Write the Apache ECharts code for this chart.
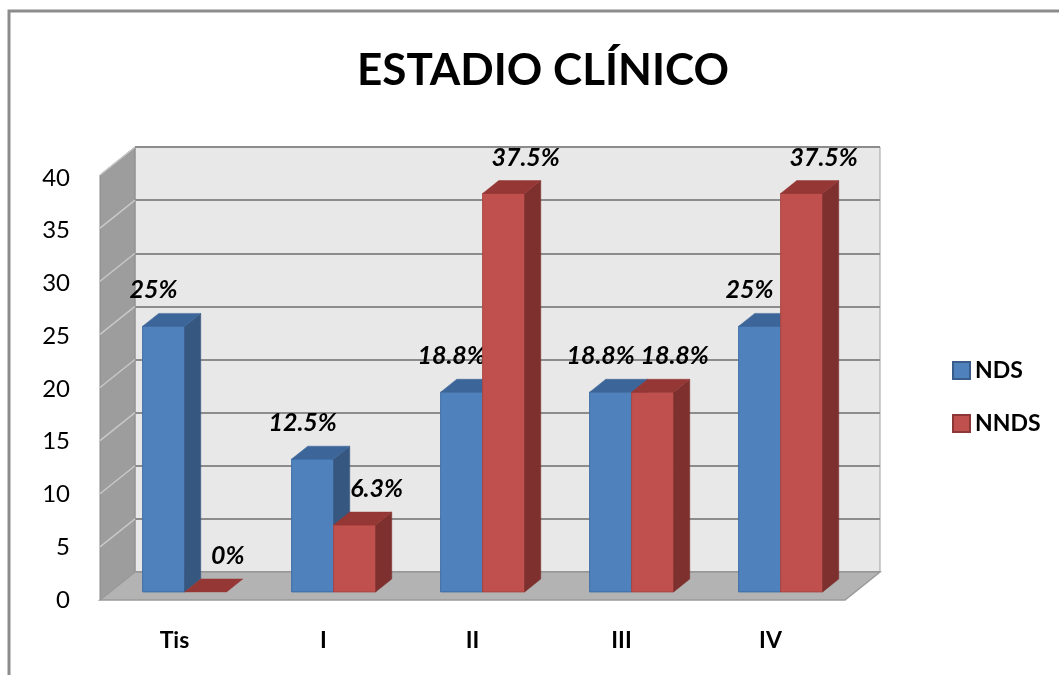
<!DOCTYPE html>
<html>
<head>
<meta charset="utf-8">
<script src="https://cdn.jsdelivr.net/npm/echarts@6/dist/echarts.min.js"></script>
<style>
html,body{margin:0;padding:0;background:#fff;}
#chart{width:1059px;height:675px;}
</style>
</head>
<body>
<div id="chart"></div>
<script>
// ---- data ----
const categories = ['Tis', 'I', 'II', 'III', 'IV'];
const seriesNames = ['NDS', 'NNDS'];
const ndsValues = [25, 12.5, 18.8, 18.8, 25];
const nndsValues = [0, 6.3, 37.5, 18.8, 37.5];
const yTickValues = [0, 5, 10, 15, 20, 25, 30, 35, 40];
const titleText = 'ESTADIO CLÍNICO';

// ---- layout (3D look) ----
const DX = 35, DY = 28;          // front plane offset from back wall
const FRONT = 0.71, BACK = 0.25; // bar depth fractions
const BAR_FRAC = 0.282;
const FONT = 'Lato, "Open Sans", sans-serif';

const colors = {
  NDS:  {front: '#4F81BD', side: '#36577f', top: '#3c6599', stroke: '#3e6ea6', legendBorder: '#385D8A'},
  NNDS: {front: '#C0504D', side: '#7d302e', top: '#953734', stroke: '#a84643', legendBorder: '#8C3836'}
};

function barRenderer(side, labelDx, c) {
  return function (params, api) {
    const cat = api.value(0), v = api.value(1);
    const base = api.coord([cat, 0]);
    const top = api.coord([cat, v]);
    const w = api.size([1, 0])[0] * BAR_FRAC;
    const fx = -DX * FRONT, fy = DY * FRONT;
    const bx = -DX * BACK, by = DY * BACK;
    const ddx = bx - fx, ddy = by - fy;
    const x0 = base[0] + (side === 0 ? -w : 0) + fx;
    const x1 = x0 + w;
    const yT = top[1] + fy, yB = base[1] + fy;
    const children = [];
    if (yB - yT > 0.1) {
      children.push({type: 'rect', shape: {x: x0, y: yT, width: w, height: yB - yT},
        style: {fill: c.front, stroke: c.stroke, lineWidth: 1}});
      children.push({type: 'polygon', shape: {points: [[x1, yB], [x1, yT], [x1 + ddx, yT + ddy], [x1 + ddx, yB + ddy]]},
        style: {fill: c.side, stroke: c.side, lineWidth: 0.5}});
    }
    children.push({type: 'polygon', shape: {points: [[x0, yT], [x1, yT], [x1 + ddx, yT + ddy], [x0 + ddx, yT + ddy]]},
      style: {fill: c.top, stroke: c.top, lineWidth: 0.5}});
    children.push({type: 'text', x: (x0 + x1) / 2 + labelDx, y: yT - 36,
      style: {text: v + '%', fill: '#000', font: 'italic bold 25px ' + FONT, align: 'center', verticalAlign: 'middle'}});
    return {type: 'group', children: children};
  };
}

function wallRenderer(params, api) {
  const cs = params.coordSys;
  const v = api.value(1);
  const y = api.coord([0, v])[1];
  const children = [];
  if (params.dataIndex === 0) {
    const L = cs.x, R = cs.x + cs.width, T = cs.y, B = cs.y + cs.height;
    children.push({type: 'polygon', shape: {points: [[L - DX, T + DY], [L, T], [L, B], [L - DX, B + DY]]},
      style: {fill: '#9d9d9d', stroke: '#8a8a8a', lineWidth: 1}});
    children.push({type: 'polygon', shape: {points: [[L - DX, B + DY], [R - DX, B + DY], [R, B], [L, B]]},
      style: {fill: '#b3b3b3', stroke: '#9a9a9a', lineWidth: 1.5}});
  }
  if (v > 0) {
    children.push({type: 'line', shape: {x1: cs.x, y1: y, x2: cs.x - DX, y2: y + DY},
      style: {stroke: '#c9c9c9', lineWidth: 1.5}});
  }
  return {type: 'group', children: children};
}

const chart = echarts.init(document.getElementById('chart'), null, {renderer: 'canvas'});
chart.setOption({
  animation: false,
  backgroundColor: '#fff',
  title: {
    text: titleText, left: 538, top: 44, textAlign: 'center',
    textStyle: {fontFamily: FONT, fontWeight: 'bold', fontSize: 44, color: '#000'}
  },
  legend: {
    data: seriesNames, orient: 'vertical', left: 947, top: 354,
    itemWidth: 17, itemHeight: 17, itemGap: 30, icon: 'rect',
    textStyle: {fontFamily: FONT, fontWeight: 'bold', fontSize: 23, color: '#000'}
  },
  graphic: [
    {type: 'polyline', shape: {points: [[9, 675], [9, 11], [1059, 11]]},
      style: {stroke: '#8c8c8c', lineWidth: 3, fill: null}, z: 0}
  ],
  grid: [
    {left: 135, top: 147, width: 745, height: 425, show: true, backgroundColor: '#e8e8e8',
      borderColor: '#a0a0a0', borderWidth: 1, containLabel: false},
    {left: 100, top: 178, width: 745, height: 422, show: false, containLabel: false}
  ],
  xAxis: [
    {type: 'category', gridIndex: 0, data: categories, axisLine: {show: false}, axisTick: {show: false},
      axisLabel: {show: false}, splitLine: {show: false}},
    {type: 'category', gridIndex: 1, data: categories, axisLine: {show: false}, axisTick: {show: false},
      axisLabel: {margin: 29, fontFamily: FONT, fontWeight: 'bold', fontSize: 23, color: '#000'}}
  ],
  yAxis: [
    {type: 'value', gridIndex: 0, min: 0, max: 40, interval: 5, axisLine: {show: false}, axisTick: {show: false},
      axisLabel: {show: false}, splitLine: {show: true, lineStyle: {color: '#8c8c8c', width: 2}}},
    {type: 'value', gridIndex: 1, min: 0, max: 40, interval: 5, axisLine: {show: false}, axisTick: {show: false},
      splitLine: {show: false},
      axisLabel: {margin: 30, fontFamily: FONT, fontSize: 24, color: '#000'}}
  ],
  series: [
    {type: 'custom', name: 'walls', xAxisIndex: 0, yAxisIndex: 0, z: 1, silent: true,
      data: yTickValues.map(v => [0, v]), renderItem: wallRenderer},
    {type: 'custom', name: seriesNames[0], xAxisIndex: 0, yAxisIndex: 0, z: 2,
      itemStyle: {color: colors.NDS.front, borderColor: colors.NDS.legendBorder, borderWidth: 1},
      data: ndsValues.map((v, i) => [i, v]), renderItem: barRenderer(0, -10, colors.NDS)},
    {type: 'custom', name: seriesNames[1], xAxisIndex: 0, yAxisIndex: 0, z: 3,
      itemStyle: {color: colors.NNDS.front, borderColor: colors.NNDS.legendBorder, borderWidth: 1},
      data: nndsValues.map((v, i) => [i, v]), renderItem: barRenderer(1, 22, colors.NNDS)}
  ]
});
</script>
</body>
</html>
